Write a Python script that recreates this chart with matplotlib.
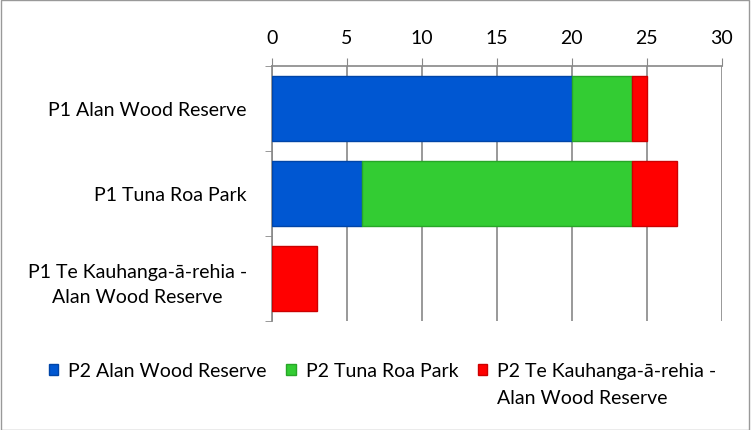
import numpy as np
import matplotlib.pyplot as plt
from matplotlib.patches import Rectangle

plt.rcParams['font.family'] = ['Lato', 'DejaVu Sans']

categories = ['P1 Alan Wood Reserve', 'P1 Tuna Roa Park',
              'P1 Te Kauhanga-ā-rehia -\nAlan Wood Reserve']
series_names = ['P2 Alan Wood Reserve', 'P2 Tuna Roa Park',
                'P2 Te Kauhanga-ā-rehia -']
name_cont = 'Alan Wood Reserve'  # second line of the last legend entry
alan_wood = [20, 6, 0]
tuna_roa = [4, 18, 0]
te_kauhanga = [1, 3, 3]
colors = ['#0057D2', '#33CC33', '#FF0000']
edges = ['#0045A8', '#28A628', '#CC0000']

fig = plt.figure(figsize=(7.51, 4.31), dpi=100)
ax = fig.add_axes([0.362, 0.253, 0.599, 0.592])

y = np.arange(len(categories))
left = np.zeros(len(categories))
for vals, name, c, ec in zip([alan_wood, tuna_roa, te_kauhanga], series_names, colors, edges):
    ax.barh(y, vals, left=left, height=0.77, color=c, edgecolor=ec,
            linewidth=1.0, label=name, zorder=3)
    left += np.array(vals)

ax.set_xlim(0, 30)
ax.set_ylim(2.5, -0.5)
ax.set_xticks(range(0, 31, 5))
ax.xaxis.tick_top()
ax.tick_params(axis='x', direction='out', length=6, color='#888888',
               labelsize=14, pad=8)
ax.set_yticks(y)
ax.set_yticklabels(categories, fontsize=14, multialignment='center', linespacing=1.6)
ax.tick_params(axis='y', length=0, pad=18)
ax.set_yticks(np.arange(-0.5, 3, 1), minor=True)
ax.tick_params(axis='y', which='minor', direction='out', length=5, color='#888888')
ax.grid(axis='x', color='#888888', linewidth=1.2, zorder=0)
for s in ['right', 'bottom']:
    ax.spines[s].set_visible(False)
for s in ['left', 'top']:
    ax.spines[s].set_color('#888888')
    ax.spines[s].set_linewidth(1.2)

leg = ax.legend(loc='center left', bbox_to_anchor=(0.052, 1 - 372 / 431), ncol=3,
                frameon=False, fontsize=14, handlelength=0.5, handleheight=0.5,
                handletextpad=0.5, columnspacing=1.0, borderpad=0,
                bbox_transform=fig.transFigure)

# wrapped second line of the last legend entry
fig.canvas.draw()
bb = leg.get_texts()[-1].get_window_extent().transformed(fig.transFigure.inverted())
fig.text(bb.x0, bb.y0 - 0.062, name_cont, fontsize=14, ha='left', va='bottom')

fig.patches.append(Rectangle((0.001, 0.001), 0.997, 0.997, transform=fig.transFigure,
                             fill=False, edgecolor='#999999', linewidth=1))

fig.savefig('out.png', dpi=100)
